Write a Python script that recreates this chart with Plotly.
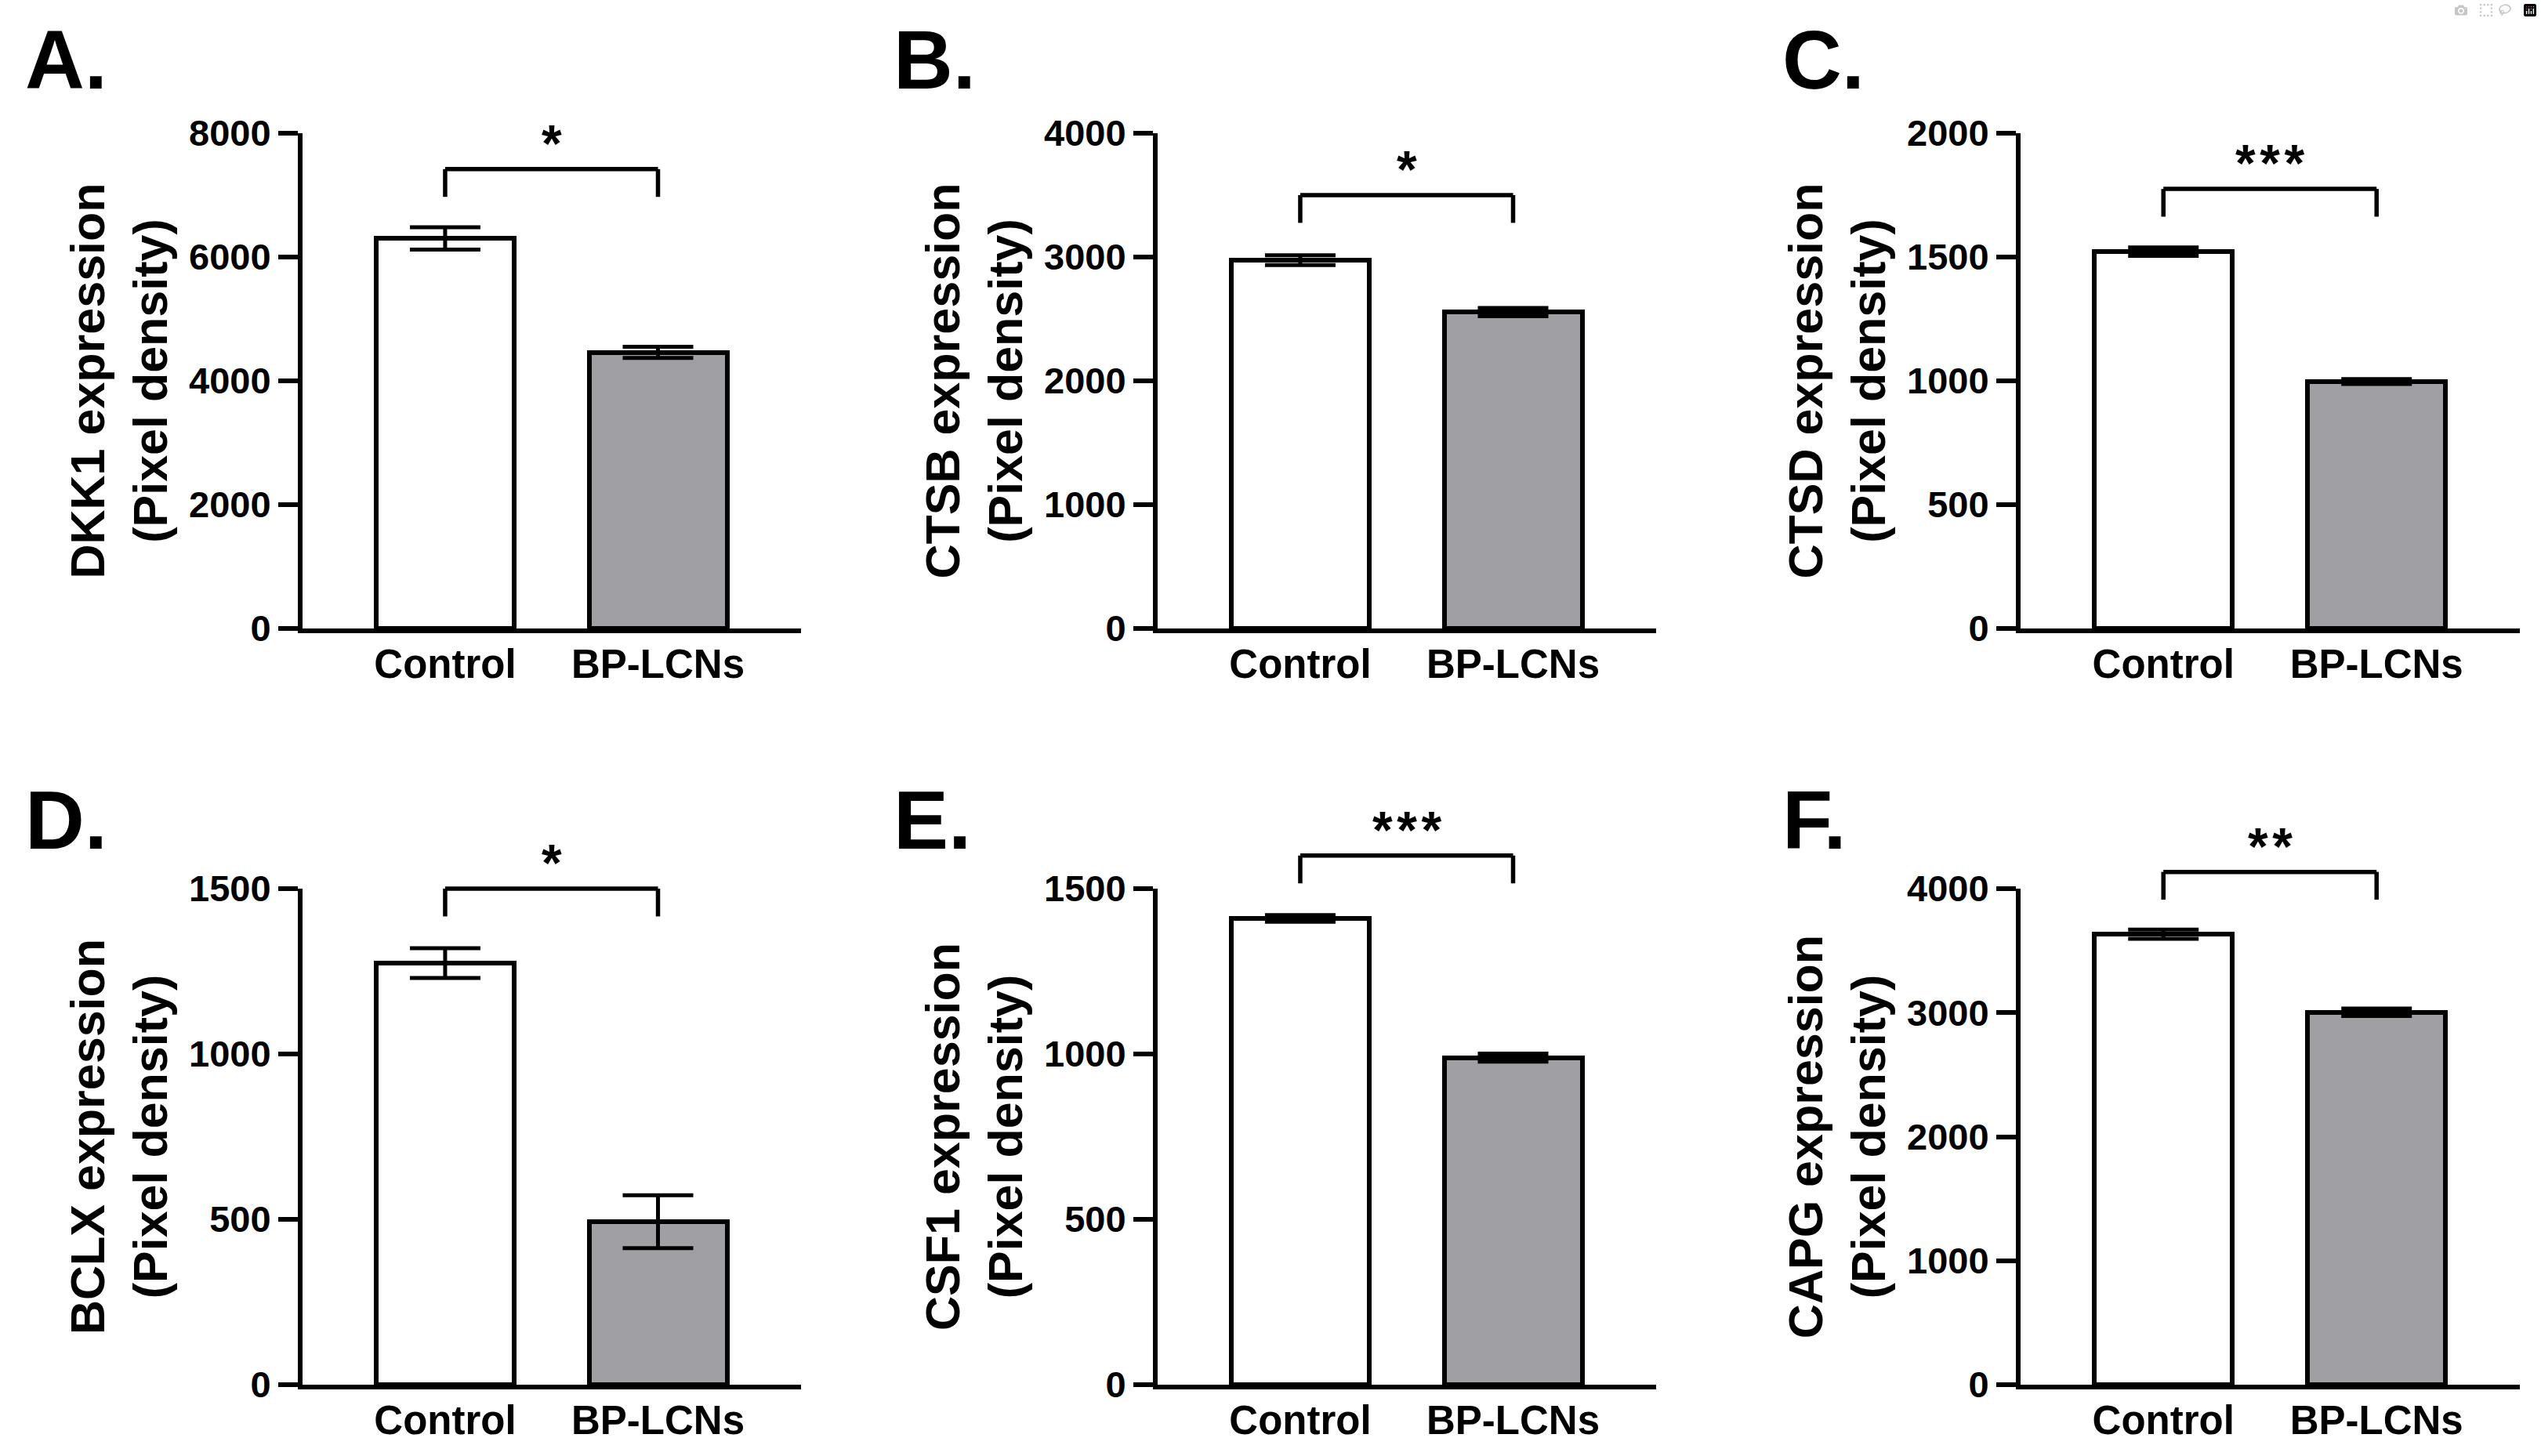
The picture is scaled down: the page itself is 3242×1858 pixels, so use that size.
import plotly.graph_objects as go

# ---------------- data ----------------
categories = ["Control", "BP-LCNs"]
genes = ["DKK1", "CTSB", "CTSD", "BCLX", "CSF1", "CAPG"]
panel_letters = ["A.", "B.", "C.", "D.", "E.", "F."]
control_mean = [6300, 2975, 1522, 1275, 1410, 3633]
control_sem = [180, 40, 17, 45, 10, 37]
bplcn_mean = [4460, 2555, 997, 493, 989, 3003]
bplcn_sem = [90, 33, 10, 80, 12, 30]
y_max = [8000, 4000, 2000, 1500, 1500, 4000]
y_step = [2000, 1000, 500, 500, 500, 1000]
bracket_y = [7420, 3500, 1775, 1500, 1600, 4135]
sig_labels = ["*", "*", "***", "*", "***", "**"]

# ---------------- layout geometry (pixels) ----------------
W, H = 3242, 1858
col_x = [(386, 1022), (1477, 2113), (2578, 3215)]
row_y = [(170, 802), (1134, 1767)]
letter_x = [30, 1138, 2272]
letter_top = [16, 986]

FONT = "Liberation Sans, Arial, sans-serif"
BAR_COLORS = ["#ffffff", "#a09fa4"]

fig = go.Figure()
shapes = []
annotations = []

for i, gene in enumerate(genes):
    r, c = divmod(i, 3)
    n = i + 1
    xa = "x" if n == 1 else f"x{n}"
    ya = "y" if n == 1 else f"y{n}"
    xkey = "xaxis" if n == 1 else f"xaxis{n}"
    ykey = "yaxis" if n == 1 else f"yaxis{n}"

    fig.add_trace(go.Bar(
        x=[0, 1],
        y=[control_mean[i], bplcn_mean[i]],
        width=0.648,
        marker=dict(color=BAR_COLORS, line=dict(color="black", width=6)),
        error_y=dict(type="data", array=[control_sem[i], bplcn_sem[i]],
                     visible=True, color="black", thickness=5, width=45),
        xaxis=xa, yaxis=ya, showlegend=False,
    ))

    x0p, x1p = col_x[c]
    y0p, y1p = row_y[r]
    fig.layout[xkey] = dict(
        domain=[x0p / W, x1p / W], anchor=ya, automargin=False,
        range=[-0.670, 1.672], tickvals=[0, 1], ticktext=categories,
        showline=True, linecolor="black", linewidth=6,
        ticks="", ticklabelstandoff=-4, showgrid=False, zeroline=False,
        tickfont=dict(family=FONT, size=51, color="black", weight="bold"),
        fixedrange=True,
    )
    ticks = list(range(0, y_max[i] + 1, y_step[i]))
    fig.layout[ykey] = dict(
        domain=[1 - y1p / H, 1 - y0p / H], anchor=xa, automargin=False,
        range=[0, y_max[i]], tickvals=ticks, ticktext=[str(t) for t in ticks],
        showline=True, linecolor="black", linewidth=6,
        ticks="outside", ticklen=25, tickwidth=6, tickcolor="black",
        showgrid=False, zeroline=False,
        tickfont=dict(family=FONT, size=47, color="black", weight="bold"),
        title=dict(text=f"{gene} expression<br>(Pixel density)",
                   font=dict(family=FONT, size=61, color="black", weight="bold"),
                   standoff=10),
        fixedrange=True,
    )

    # significance bracket
    yb = bracket_y[i] / y_max[i]
    drop = 0.056
    line = dict(color="black", width=5.5)
    ydom = f"{ya} domain"
    shapes.append(dict(type="line", xref=xa, yref=ydom, x0=0, x1=1, y0=yb, y1=yb, line=line))
    shapes.append(dict(type="line", xref=xa, yref=ydom, x0=0, x1=0, y0=yb, y1=yb - drop, line=line))
    shapes.append(dict(type="line", xref=xa, yref=ydom, x0=1, x1=1, y0=yb, y1=yb - drop, line=line))
    annotations.append(dict(
        xref=xa, yref=ydom, x=0.5, y=yb, yanchor="bottom", xanchor="center",
        text="\u200a".join(sig_labels[i]), showarrow=False, yshift=-6,
        font=dict(family=FONT, size=66, color="black", weight="bold"),
    ))

    # panel letter
    annotations.append(dict(
        xref="paper", yref="paper", x=letter_x[c] / W, y=1 - letter_top[r] / H,
        xanchor="left", yanchor="top", text=panel_letters[i], showarrow=False,
        font=dict(family=FONT, size=105, color="black", weight="bold"),
    ))

fig.update_layout(
    width=W, height=H,
    margin=dict(l=0, r=0, t=0, b=0, autoexpand=False),
    paper_bgcolor="white", plot_bgcolor="white",
    font=dict(family=FONT, color="black"),
    shapes=shapes, annotations=annotations,
    bargap=0,
)

fig.write_html("out.html", post_script="document.body.style.margin='0';document.body.style.overflow='hidden';")
